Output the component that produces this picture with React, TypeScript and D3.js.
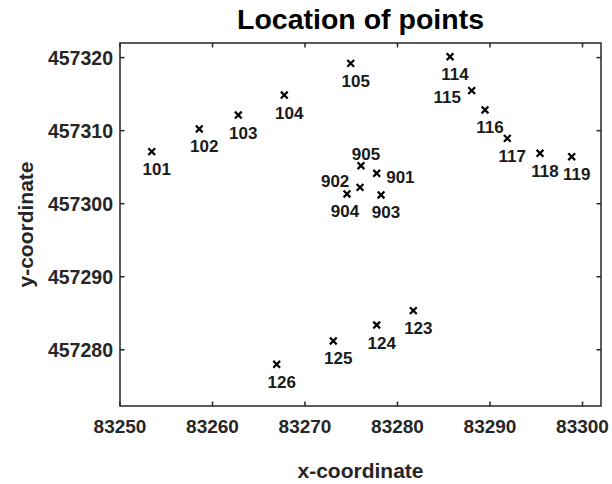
import React from "react";
import * as d3 from "d3";

const pointIds = ["101","102","103","104","105","114","115","116","117","118","119","901","902","903","904","905","123","124","125","126"];
const xValues = [83253.43,83258.57,83262.79,83267.76,83274.94,83285.68,83288.02,83289.46,83291.87,83295.41,83298.83,83277.75,83275.95,83278.22,83274.54,83276.05,83281.71,83277.75,83273.06,83266.94];
const yValues = [457307.12,457310.23,457312.14,457314.88,457319.22,457320.12,457315.47,457312.83,457308.95,457306.9,457306.43,457304.16,457302.24,457301.19,457301.33,457305.2,457285.35,457283.39,457281.2,457278.01];
const labelPlacement = ["below","below","below","below","below","below","lowerLeft","below","below","below","below","right","left","below","belowLeft","above","below","below","below","below"];

const xTicks = [83250, 83260, 83270, 83280, 83290, 83300];
const yTicks = [457280, 457290, 457300, 457310, 457320];
const xDomain = [83250, 83302];
const yDomain = [457272.3, 457322];

const title = "Location of points";
const xLabel = "x-coordinate";
const yLabel = "y-coordinate";

const W = 612, H = 484;
const M = { left: 120, right: 601, top: 43, bottom: 406 };
const FONT = "'Liberation Sans', Arial, Helvetica, sans-serif";
const AX = "#262626";

const placementStyle: Record<string, { dx: number; dy: number; anchor: string }> = {
  below: { dx: 5, dy: 23.5, anchor: "middle" },
  belowLeft: { dx: -2, dy: 23.5, anchor: "middle" },
  above: { dx: 5, dy: -6, anchor: "middle" },
  right: { dx: 9.5, dy: 9.5, anchor: "start" },
  left: { dx: -10.7, dy: 0, anchor: "end" },
  lowerLeft: { dx: -10.7, dy: 12.6, anchor: "end" },
};

export default function App() {
  const x = d3.scaleLinear().domain(xDomain).range([M.left, M.right]);
  const y = d3.scaleLinear().domain(yDomain).range([M.bottom, M.top]);
  const tl = 4.5;
  const s = 3.4;
  return (
    <svg width={W} height={H} style={{ position: "absolute", left: 0, top: 0, background: "#fff" }} fontFamily={FONT}>
      <rect x={0} y={0} width={W} height={H} fill="#fff" />
      {xTicks.map((t) => (
        <g key={"xt" + t}>
          <line x1={x(t)} x2={x(t)} y1={M.bottom} y2={M.bottom - tl} stroke={AX} strokeWidth={1.5} />
          <line x1={x(t)} x2={x(t)} y1={M.top} y2={M.top + tl} stroke={AX} strokeWidth={1.5} />
          <text x={x(t)} y={M.bottom + 27} textAnchor="middle" fontSize={19} fontWeight="bold" fill={AX}>{t}</text>
        </g>
      ))}
      {yTicks.map((t) => (
        <g key={"yt" + t}>
          <line x1={M.left} x2={M.left + tl} y1={y(t)} y2={y(t)} stroke={AX} strokeWidth={1.5} />
          <line x1={M.right} x2={M.right - tl} y1={y(t)} y2={y(t)} stroke={AX} strokeWidth={1.5} />
          <text x={M.left - 7} y={y(t)} dy="0.36em" textAnchor="end" fontSize={19.5} fontWeight="bold" fill={AX}>{t}</text>
        </g>
      ))}
      <rect x={M.left} y={M.top} width={M.right - M.left} height={M.bottom - M.top} fill="none" stroke={AX} strokeWidth={1.5} />
      {pointIds.map((id, i) => {
        const px = x(xValues[i]);
        const py = y(yValues[i]);
        const p = placementStyle[labelPlacement[i]];
        return (
          <g key={id}>
            <path d={`M${px - s},${py - s}L${px + s},${py + s}M${px - s},${py + s}L${px + s},${py - s}`} stroke="#000" strokeWidth={2.2} />
            <text x={px + p.dx} y={py + p.dy} textAnchor={p.anchor} fontSize={17} fontWeight="bold" fill="#1a1a1a">{id}</text>
          </g>
        );
      })}
      <text x={(M.left + M.right) / 2} y={29} textAnchor="middle" fontSize={28.5} fontWeight="bold" fill="#000">{title}</text>
      <text x={(M.left + M.right) / 2} y={478} textAnchor="middle" fontSize={21} fontWeight="bold" fill={AX}>{xLabel}</text>
      <text transform={`translate(33,${(M.top + M.bottom) / 2}) rotate(-90)`} textAnchor="middle" fontSize={21} fontWeight="bold" fill={AX}>{yLabel}</text>
    </svg>
  );
}
